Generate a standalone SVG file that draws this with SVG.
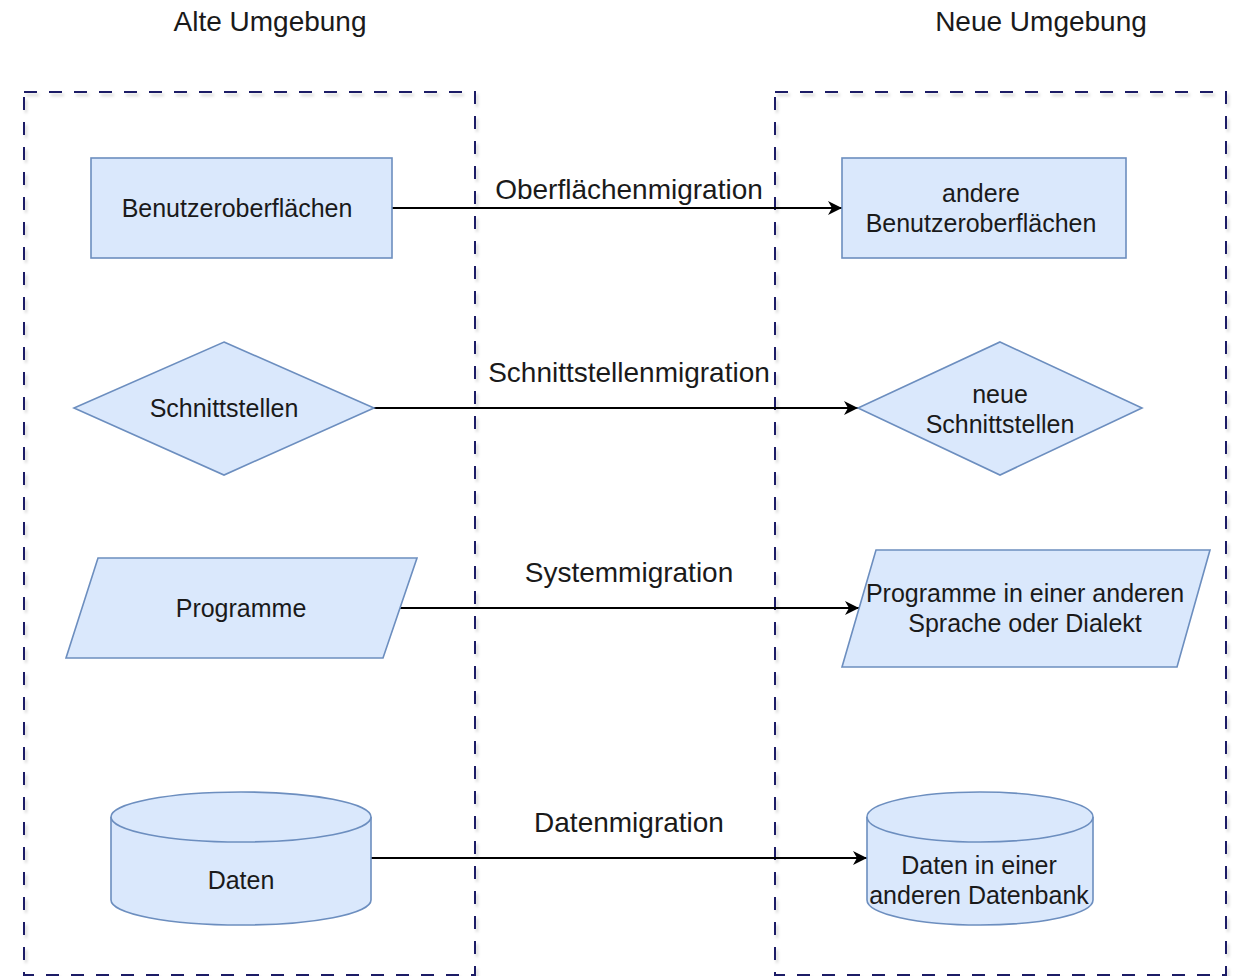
<svg xmlns="http://www.w3.org/2000/svg" width="1233" height="976" viewBox="0 0 1233 976">
<style>
.shape{fill:#dae8fc;stroke:#6c8ebf;stroke-width:1.6}
.cont{fill:none;stroke:#1a1a66;stroke-width:2;stroke-dasharray:13 12}
.t{font-family:"Liberation Sans",Arial,sans-serif;font-size:25px;fill:#1a1a1a;text-anchor:middle}
.lbl{font-family:"Liberation Sans",Arial,sans-serif;font-size:28px;fill:#1a1a1a;text-anchor:middle}
.edge{fill:none;stroke:#000;stroke-width:2}
</style>
<defs>
<marker id="arr" markerUnits="userSpaceOnUse" markerWidth="16" markerHeight="14" refX="14" refY="7" orient="auto">
<path d="M0,0 L14,7 L0,14 L4,7 Z" fill="#000"/>
</marker>
<filter id="sh" x="-5%" y="-5%" width="110%" height="110%">
<feDropShadow dx="2" dy="3" stdDeviation="1.5" flood-color="#000" flood-opacity="0.18"/>
</filter>
</defs>
<rect width="1233" height="976" fill="#fff"/>
<g id="titles">
<text class="lbl" x="270" y="31">Alte Umgebung</text>
<text class="lbl" x="1041" y="31">Neue Umgebung</text>
</g>
<g id="containers">
<rect id="alt" class="cont" x="24" y="92" width="451" height="883" filter="url(#sh)"/>
<rect id="neu" class="cont" x="775" y="92" width="451" height="883" filter="url(#sh)"/>
</g>
<g id="connectors">
<line class="edge" x1="392" y1="208" x2="842" y2="208" marker-end="url(#arr)"/>
<line class="edge" x1="374" y1="408" x2="858" y2="408" marker-end="url(#arr)"/>
<line class="edge" x1="400" y1="608" x2="859" y2="608" marker-end="url(#arr)"/>
<line class="edge" x1="371" y1="858" x2="867" y2="858" marker-end="url(#arr)"/>
<text class="lbl" x="629" y="199">Oberflächenmigration</text>
<text class="lbl" x="629" y="382">Schnittstellenmigration</text>
<text class="lbl" x="629" y="582">Systemmigration</text>
<text class="lbl" x="629" y="832">Datenmigration</text>
</g>
<g id="n-benutzer">
<rect class="shape" x="91" y="158" width="301" height="100"/>
<text class="t" x="237" y="217">Benutzeroberflächen</text>
</g>
<g id="n-andere-benutzer">
<rect class="shape" x="842" y="158" width="284" height="100"/>
<text class="t" x="981" y="202">andere</text>
<text class="t" x="981" y="232">Benutzeroberflächen</text>
</g>
<g id="n-schnitt">
<polygon class="shape" points="224,342 374,408 224,475 74,408"/>
<text class="t" x="224" y="417">Schnittstellen</text>
</g>
<g id="n-neue-schnitt">
<polygon class="shape" points="1000,342 1142,408 1000,475 858,408"/>
<text class="t" x="1000" y="403">neue</text>
<text class="t" x="1000" y="433">Schnittstellen</text>
</g>
<g id="n-programme">
<polygon class="shape" points="98,558 417,558 383,658 66,658"/>
<text class="t" x="241" y="617">Programme</text>
</g>
<g id="n-programme-neu">
<polygon class="shape" points="876,550 1210,550 1177,667 842,667"/>
<text class="t" x="1025" y="602">Programme in einer anderen</text>
<text class="t" x="1025" y="632">Sprache oder Dialekt</text>
</g>
<g id="n-daten">
<path class="shape" d="M111,817 A130,25 0 0 1 371,817 L371,900 A130,25 0 0 1 111,900 Z"/>
<path class="shape" fill="none" d="M111,817 A130,25 0 0 0 371,817"/>
<text class="t" x="241" y="889">Daten</text>
</g>
<g id="n-daten-neu">
<path class="shape" d="M867,817 A113,25 0 0 1 1093,817 L1093,900 A113,25 0 0 1 867,900 Z"/>
<path class="shape" fill="none" d="M867,817 A113,25 0 0 0 1093,817"/>
<text class="t" x="979" y="874">Daten in einer</text>
<text class="t" x="979" y="904">anderen Datenbank</text>
</g>
</svg>
